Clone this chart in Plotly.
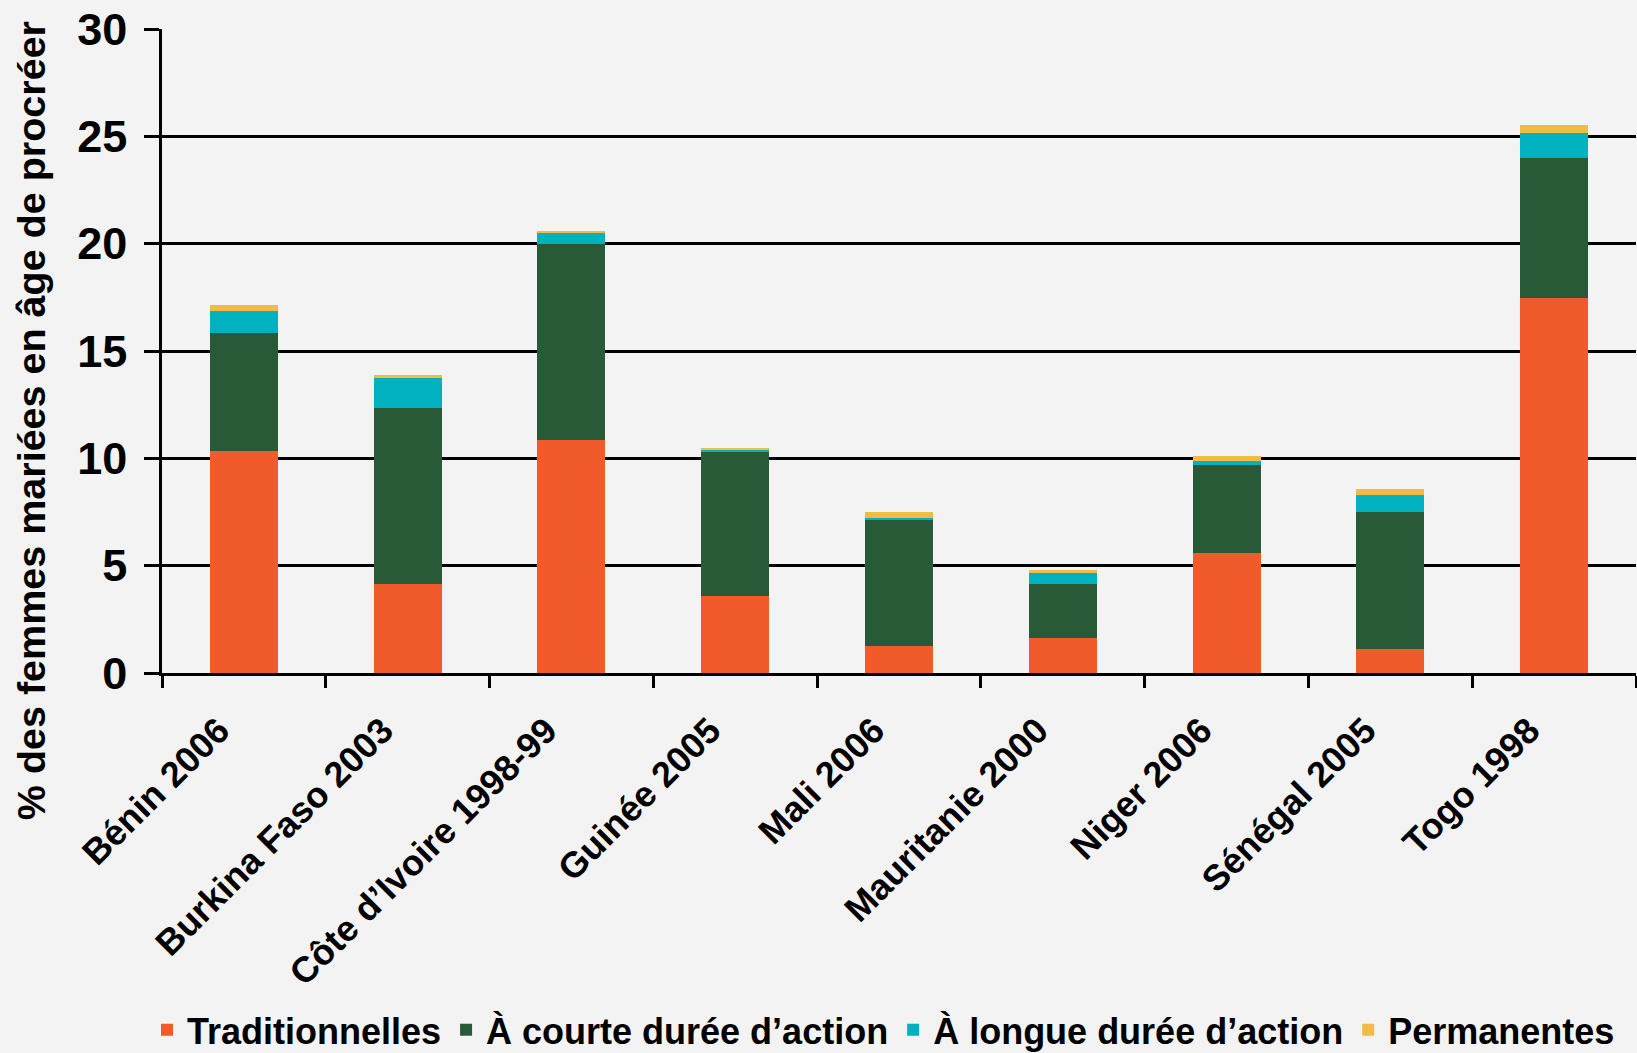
import plotly.graph_objects as go

categories = ["Bénin 2006", "Burkina Faso 2003", "Côte d’Ivoire 1998-99", "Guinée 2005",
              "Mali 2006", "Mauritanie 2000", "Niger 2006", "Sénégal 2005", "Togo 1998"]
traditionnelles = [10.36, 4.15, 10.87, 3.60, 1.25, 1.65, 5.57, 1.12, 17.45]
courte_duree = [5.48, 8.20, 9.10, 6.70, 5.87, 2.50, 4.14, 6.36, 6.52]
longue_duree = [1.02, 1.40, 0.51, 0.10, 0.10, 0.52, 0.15, 0.83, 1.20]
permanentes = [0.28, 0.15, 0.13, 0.10, 0.27, 0.13, 0.27, 0.28, 0.37]

series_names = ["Traditionnelles", "À courte durée d’action", "À longue durée d’action", "Permanentes"]
series_values = [traditionnelles, courte_duree, longue_duree, permanentes]
colors = ["#F15A2B", "#285A38", "#00B2C0", "#F0BC45"]

y_tick_values = [0, 5, 10, 15, 20, 25, 30]
y_title = "% des femmes mariées en âge de procréer"

FONT = "Liberation Sans, Arial, sans-serif"

fig = go.Figure()
for name, vals, col in zip(series_names, series_values, colors):
    fig.add_trace(go.Bar(x=categories, y=vals, name=name, marker=dict(color=col, line=dict(width=0))))

fig.update_layout(
    barmode="stack",
    bargap=0.585,
    width=1637, height=1053,
    margin=dict(l=162, r=1, t=29, b=380, autoexpand=False),
    paper_bgcolor="#f3f3f3",
    plot_bgcolor="#f3f3f3",
    font=dict(family=FONT, color="black"),
    showlegend=True,
    legend=dict(orientation="h", xref="container", x=0.0898, xanchor="left",
                yref="container", y=0.022, yanchor="middle",
                font=dict(family=FONT, size=36, color="black", weight="bold"),
                bgcolor="rgba(0,0,0,0)", traceorder="normal"),
)

fig.update_yaxes(
    range=[0, 30], tickvals=y_tick_values,
    showgrid=True, gridcolor="black", gridwidth=2.5,
    showline=True, linecolor="black", linewidth=2.5,
    ticks="outside", ticklen=15, tickwidth=2.5, tickcolor="black",
    tickfont=dict(family=FONT, size=45, color="black", weight="bold"),
    ticklabelstandoff=8, automargin=False,
    zeroline=False,
)
fig.update_xaxes(
    showline=True, linecolor="black", linewidth=3,
    ticks="outside", ticklen=12, tickwidth=2.5, tickcolor="black",
    tickson="boundaries", tickangle=-45,
    tickfont=dict(family=FONT, size=36, color="black", weight="bold"),
    ticklabelstandoff=19, ticklabelshift=-25, automargin=False,
    showgrid=False,
)

fig.add_annotation(
    text=y_title, xref="paper", yref="paper", x=0, y=0.391,
    xanchor="center", yanchor="middle", xshift=-131, textangle=-90, showarrow=False,
    font=dict(family=FONT, size=39.5, color="black", weight="bold"),
)

fig.write_html("out.html", config={"displayModeBar": False},
               post_script="document.body.style.margin='0';")
